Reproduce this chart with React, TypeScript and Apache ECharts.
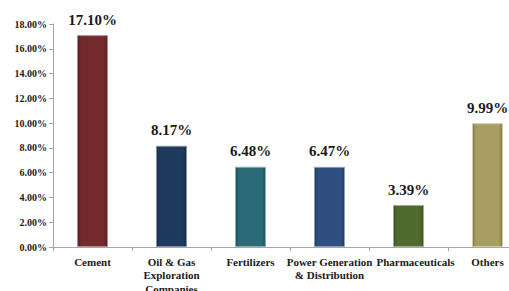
import React, { useEffect, useRef } from "react";
import * as echarts from "echarts";

const categories = [
  "Cement",
  "Oil & Gas\nExploration\nCompanies",
  "Fertilizers",
  "Power Generation\n& Distribution",
  "Pharmaceuticals",
  "Others",
];
const values = [17.1, 8.17, 6.48, 6.47, 3.39, 9.99];
const barColors = ["#722a2c", "#1e3a5c", "#2b6b78", "#2e4f7f", "#4f6a2c", "#a99e62"];
const yTicks = [0, 2, 4, 6, 8, 10, 12, 14, 16, 18];

function shade(hex: string, f: number) {
  const n = parseInt(hex.slice(1), 16);
  const r = (n >> 16) & 255, g = (n >> 8) & 255, b = n & 255;
  const m = (c: number) => Math.max(0, Math.min(255, Math.round(f > 0 ? c + (255 - c) * f : c * (1 + f))));
  return `rgb(${m(r)},${m(g)},${m(b)})`;
}

export default function App() {
  const ref = useRef<HTMLDivElement>(null);
  useEffect(() => {
    if (!ref.current) return;
    const chart = echarts.init(ref.current, null, { renderer: "svg" });
    const font = "Liberation Serif";
    chart.setOption({
      animation: false,
      backgroundColor: "#ffffff",
      textStyle: { fontFamily: font },
      grid: {
        left: 53,
        top: 24,
        right: 0,
        bottom: 44,
        containLabel: false,
        outerBoundsMode: "none",
      },
      xAxis: {
        type: "category",
        data: categories.map((c, i) =>
          i === 4 ? { value: c, textStyle: { padding: [0, 0, 0, 14] } } : c
        ),
        axisLine: { lineStyle: { color: "#a6a6a6", width: 1 } },
        axisTick: { show: true, length: 4, lineStyle: { color: "#a6a6a6" } },
        axisLabel: {
          interval: 0,
          margin: 8,
          fontFamily: font,
          fontWeight: "bold",
          fontSize: 11,
          color: "#1a1a1a",
          lineHeight: 13.5,
        },
      },
      yAxis: {
        type: "value",
        min: yTicks[0],
        max: yTicks[yTicks.length - 1],
        interval: 2,
        splitLine: { show: false },
        axisLine: { show: true, lineStyle: { color: "#a6a6a6", width: 1 } },
        axisTick: { show: true, length: 4, lineStyle: { color: "#a6a6a6" } },
        axisLabel: {
          margin: 6,
          fontFamily: font,
          fontWeight: "bold",
          fontSize: 10,
          color: "#1a1a1a",
          formatter: (v: number) => v.toFixed(2) + "%",
        },
      },
      series: [
        {
          type: "bar",
          barWidth: 31,
          data: values.map((v, i) => ({
            value: v,
            itemStyle: {
              color: new echarts.graphic.LinearGradient(0, 0, 1, 0, [
                { offset: 0, color: shade(barColors[i], -0.25) },
                { offset: 0.12, color: barColors[i] },
                { offset: 0.88, color: barColors[i] },
                { offset: 1, color: shade(barColors[i], -0.25) },
              ]),
              borderColor: shade(barColors[i], 0.45),
              borderWidth: 1,
            },
          })),
          label: {
            show: true,
            position: "top",
            distance: 8,
            fontFamily: font,
            fontWeight: "bold",
            fontSize: 15,
            color: "#1a1a1a",
            formatter: (p: any) => p.value.toFixed(2) + "%",
          },
        },
      ],
    });
    return () => chart.dispose();
  }, []);
  return (
    <div style={{ position: "absolute", left: 0, top: 0, width: 509, height: 291, overflow: "hidden", background: "#fff" }}>
      <div ref={ref} style={{ width: 527, height: 291 }} />
    </div>
  );
}
